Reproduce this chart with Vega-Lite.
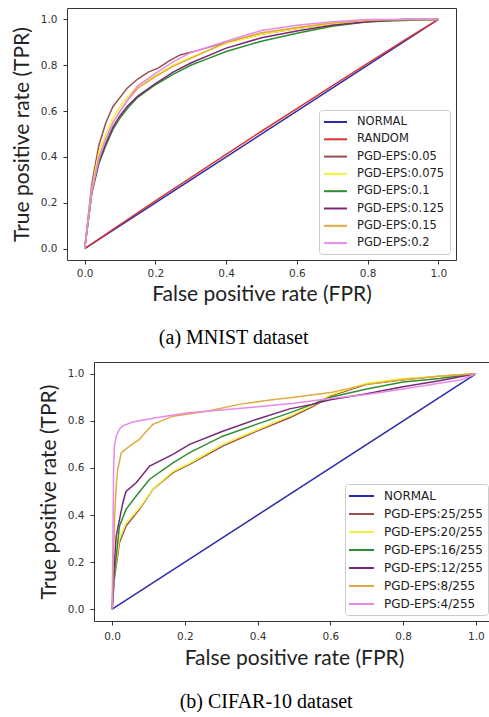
{
  "$schema": "https://vega.github.io/schema/vega-lite/v6.json",
  "padding": {"left": 5, "top": 7, "right": 0, "bottom": 0},
  "background": "white",
  "config": {
    "view": {"stroke": "#333", "strokeWidth": 1},
    "axis": {"domain": false, "grid": false, "tickColor": "#333", "tickSize": 4, "labelFont": "DejaVu Sans", "labelFontSize": 10.5, "labelColor": "#333", "titleFont": "Lato", "titleFontSize": 21, "titleFontWeight": "normal", "titleColor": "#222"},
    "axisX": {"labelPadding": 4, "titlePadding": 5},
    "axisY": {"labelPadding": 6, "titlePadding": 8},
    "legend": {"orient": "bottom-right", "offset": 6, "padding": 5, "strokeColor": "#ccc", "fillColor": "white", "cornerRadius": 3, "symbolStrokeWidth": 2, "labelFont": "DejaVu Sans", "labelColor": "#222"},
    "title": {"orient": "bottom", "font": "Liberation Serif", "fontSize": 20, "fontWeight": "normal", "color": "#000", "anchor": "middle", "frame": "bounds", "offset": 23}
  },
  "datasets": {
    "mnist": [
      {"s":"NORMAL","x":0,"y":0},{"s":"NORMAL","x":1,"y":1},
      {"s":"RANDOM","x":0,"y":0},{"s":"RANDOM","x":0.1,"y":0.104},{"s":"RANDOM","x":0.2,"y":0.208},{"s":"RANDOM","x":0.3,"y":0.31},{"s":"RANDOM","x":0.4,"y":0.411},{"s":"RANDOM","x":0.5,"y":0.512},{"s":"RANDOM","x":0.6,"y":0.611},{"s":"RANDOM","x":0.7,"y":0.71},{"s":"RANDOM","x":0.8,"y":0.808},{"s":"RANDOM","x":0.9,"y":0.905},{"s":"RANDOM","x":1,"y":1},
      {"s":"PGD-EPS:0.05","x":0,"y":0},{"s":"PGD-EPS:0.05","x":0.01,"y":0.14},{"s":"PGD-EPS:0.05","x":0.02,"y":0.28},{"s":"PGD-EPS:0.05","x":0.04,"y":0.45},{"s":"PGD-EPS:0.05","x":0.06,"y":0.55},{"s":"PGD-EPS:0.05","x":0.08,"y":0.62},{"s":"PGD-EPS:0.05","x":0.1,"y":0.66},{"s":"PGD-EPS:0.05","x":0.12,"y":0.7},{"s":"PGD-EPS:0.05","x":0.15,"y":0.74},{"s":"PGD-EPS:0.05","x":0.18,"y":0.77},{"s":"PGD-EPS:0.05","x":0.21,"y":0.79},{"s":"PGD-EPS:0.05","x":0.24,"y":0.82},{"s":"PGD-EPS:0.05","x":0.27,"y":0.845},{"s":"PGD-EPS:0.05","x":0.32,"y":0.865},{"s":"PGD-EPS:0.05","x":0.4,"y":0.9},{"s":"PGD-EPS:0.05","x":0.5,"y":0.935},{"s":"PGD-EPS:0.05","x":0.6,"y":0.96},{"s":"PGD-EPS:0.05","x":0.7,"y":0.98},{"s":"PGD-EPS:0.05","x":0.8,"y":0.99},{"s":"PGD-EPS:0.05","x":0.9,"y":1},{"s":"PGD-EPS:0.05","x":1,"y":1},
      {"s":"PGD-EPS:0.075","x":0,"y":0},{"s":"PGD-EPS:0.075","x":0.01,"y":0.13},{"s":"PGD-EPS:0.075","x":0.02,"y":0.26},{"s":"PGD-EPS:0.075","x":0.04,"y":0.42},{"s":"PGD-EPS:0.075","x":0.06,"y":0.5},{"s":"PGD-EPS:0.075","x":0.08,"y":0.57},{"s":"PGD-EPS:0.075","x":0.1,"y":0.62},{"s":"PGD-EPS:0.075","x":0.12,"y":0.66},{"s":"PGD-EPS:0.075","x":0.15,"y":0.71},{"s":"PGD-EPS:0.075","x":0.2,"y":0.755},{"s":"PGD-EPS:0.075","x":0.25,"y":0.8},{"s":"PGD-EPS:0.075","x":0.3,"y":0.835},{"s":"PGD-EPS:0.075","x":0.4,"y":0.895},{"s":"PGD-EPS:0.075","x":0.5,"y":0.935},{"s":"PGD-EPS:0.075","x":0.6,"y":0.96},{"s":"PGD-EPS:0.075","x":0.7,"y":0.98},{"s":"PGD-EPS:0.075","x":0.8,"y":0.99},{"s":"PGD-EPS:0.075","x":0.9,"y":1},{"s":"PGD-EPS:0.075","x":1,"y":1},
      {"s":"PGD-EPS:0.1","x":0,"y":0},{"s":"PGD-EPS:0.1","x":0.01,"y":0.12},{"s":"PGD-EPS:0.1","x":0.02,"y":0.24},{"s":"PGD-EPS:0.1","x":0.04,"y":0.37},{"s":"PGD-EPS:0.1","x":0.06,"y":0.45},{"s":"PGD-EPS:0.1","x":0.08,"y":0.52},{"s":"PGD-EPS:0.1","x":0.1,"y":0.57},{"s":"PGD-EPS:0.1","x":0.12,"y":0.61},{"s":"PGD-EPS:0.1","x":0.15,"y":0.66},{"s":"PGD-EPS:0.1","x":0.2,"y":0.715},{"s":"PGD-EPS:0.1","x":0.25,"y":0.76},{"s":"PGD-EPS:0.1","x":0.3,"y":0.8},{"s":"PGD-EPS:0.1","x":0.35,"y":0.83},{"s":"PGD-EPS:0.1","x":0.4,"y":0.86},{"s":"PGD-EPS:0.1","x":0.5,"y":0.905},{"s":"PGD-EPS:0.1","x":0.6,"y":0.94},{"s":"PGD-EPS:0.1","x":0.7,"y":0.97},{"s":"PGD-EPS:0.1","x":0.8,"y":0.99},{"s":"PGD-EPS:0.1","x":0.9,"y":0.995},{"s":"PGD-EPS:0.1","x":1,"y":1},
      {"s":"PGD-EPS:0.125","x":0,"y":0},{"s":"PGD-EPS:0.125","x":0.01,"y":0.12},{"s":"PGD-EPS:0.125","x":0.02,"y":0.245},{"s":"PGD-EPS:0.125","x":0.04,"y":0.38},{"s":"PGD-EPS:0.125","x":0.06,"y":0.46},{"s":"PGD-EPS:0.125","x":0.08,"y":0.53},{"s":"PGD-EPS:0.125","x":0.1,"y":0.58},{"s":"PGD-EPS:0.125","x":0.12,"y":0.62},{"s":"PGD-EPS:0.125","x":0.15,"y":0.665},{"s":"PGD-EPS:0.125","x":0.2,"y":0.72},{"s":"PGD-EPS:0.125","x":0.25,"y":0.77},{"s":"PGD-EPS:0.125","x":0.3,"y":0.81},{"s":"PGD-EPS:0.125","x":0.4,"y":0.875},{"s":"PGD-EPS:0.125","x":0.5,"y":0.92},{"s":"PGD-EPS:0.125","x":0.6,"y":0.95},{"s":"PGD-EPS:0.125","x":0.7,"y":0.975},{"s":"PGD-EPS:0.125","x":0.8,"y":0.99},{"s":"PGD-EPS:0.125","x":0.9,"y":1},{"s":"PGD-EPS:0.125","x":1,"y":1},
      {"s":"PGD-EPS:0.15","x":0,"y":0},{"s":"PGD-EPS:0.15","x":0.01,"y":0.13},{"s":"PGD-EPS:0.15","x":0.02,"y":0.25},{"s":"PGD-EPS:0.15","x":0.04,"y":0.4},{"s":"PGD-EPS:0.15","x":0.06,"y":0.48},{"s":"PGD-EPS:0.15","x":0.08,"y":0.55},{"s":"PGD-EPS:0.15","x":0.1,"y":0.6},{"s":"PGD-EPS:0.15","x":0.12,"y":0.645},{"s":"PGD-EPS:0.15","x":0.15,"y":0.7},{"s":"PGD-EPS:0.15","x":0.2,"y":0.75},{"s":"PGD-EPS:0.15","x":0.25,"y":0.795},{"s":"PGD-EPS:0.15","x":0.3,"y":0.83},{"s":"PGD-EPS:0.15","x":0.4,"y":0.9},{"s":"PGD-EPS:0.15","x":0.5,"y":0.942},{"s":"PGD-EPS:0.15","x":0.6,"y":0.965},{"s":"PGD-EPS:0.15","x":0.7,"y":0.985},{"s":"PGD-EPS:0.15","x":0.8,"y":0.995},{"s":"PGD-EPS:0.15","x":0.9,"y":1},{"s":"PGD-EPS:0.15","x":1,"y":1},
      {"s":"PGD-EPS:0.2","x":0,"y":0},{"s":"PGD-EPS:0.2","x":0.01,"y":0.12},{"s":"PGD-EPS:0.2","x":0.02,"y":0.25},{"s":"PGD-EPS:0.2","x":0.04,"y":0.39},{"s":"PGD-EPS:0.2","x":0.06,"y":0.48},{"s":"PGD-EPS:0.2","x":0.08,"y":0.55},{"s":"PGD-EPS:0.2","x":0.1,"y":0.6},{"s":"PGD-EPS:0.2","x":0.12,"y":0.645},{"s":"PGD-EPS:0.2","x":0.15,"y":0.71},{"s":"PGD-EPS:0.2","x":0.2,"y":0.765},{"s":"PGD-EPS:0.2","x":0.25,"y":0.815},{"s":"PGD-EPS:0.2","x":0.3,"y":0.855},{"s":"PGD-EPS:0.2","x":0.35,"y":0.88},{"s":"PGD-EPS:0.2","x":0.4,"y":0.905},{"s":"PGD-EPS:0.2","x":0.5,"y":0.952},{"s":"PGD-EPS:0.2","x":0.6,"y":0.975},{"s":"PGD-EPS:0.2","x":0.7,"y":0.99},{"s":"PGD-EPS:0.2","x":0.8,"y":1},{"s":"PGD-EPS:0.2","x":0.9,"y":1},{"s":"PGD-EPS:0.2","x":1,"y":1}
    ],
    "cifar": [
      {"s":"NORMAL","x":0,"y":0},{"s":"NORMAL","x":1,"y":1},
      {"s":"PGD-EPS:25/255","x":0,"y":0},{"s":"PGD-EPS:25/255","x":0.006,"y":0.13},{"s":"PGD-EPS:25/255","x":0.02,"y":0.283},{"s":"PGD-EPS:25/255","x":0.038,"y":0.353},{"s":"PGD-EPS:25/255","x":0.075,"y":0.424},{"s":"PGD-EPS:25/255","x":0.112,"y":0.509},{"s":"PGD-EPS:25/255","x":0.167,"y":0.58},{"s":"PGD-EPS:25/255","x":0.213,"y":0.615},{"s":"PGD-EPS:25/255","x":0.304,"y":0.693},{"s":"PGD-EPS:25/255","x":0.396,"y":0.756},{"s":"PGD-EPS:25/255","x":0.488,"y":0.813},{"s":"PGD-EPS:25/255","x":0.55,"y":0.86},{"s":"PGD-EPS:25/255","x":0.6,"y":0.905},{"s":"PGD-EPS:25/255","x":0.7,"y":0.955},{"s":"PGD-EPS:25/255","x":0.8,"y":0.975},{"s":"PGD-EPS:25/255","x":0.9,"y":0.99},{"s":"PGD-EPS:25/255","x":1,"y":1},
      {"s":"PGD-EPS:20/255","x":0,"y":0},{"s":"PGD-EPS:20/255","x":0.006,"y":0.15},{"s":"PGD-EPS:20/255","x":0.02,"y":0.3},{"s":"PGD-EPS:20/255","x":0.038,"y":0.365},{"s":"PGD-EPS:20/255","x":0.075,"y":0.43},{"s":"PGD-EPS:20/255","x":0.112,"y":0.51},{"s":"PGD-EPS:20/255","x":0.167,"y":0.585},{"s":"PGD-EPS:20/255","x":0.213,"y":0.62},{"s":"PGD-EPS:20/255","x":0.304,"y":0.7},{"s":"PGD-EPS:20/255","x":0.396,"y":0.76},{"s":"PGD-EPS:20/255","x":0.488,"y":0.82},{"s":"PGD-EPS:20/255","x":0.55,"y":0.865},{"s":"PGD-EPS:20/255","x":0.6,"y":0.91},{"s":"PGD-EPS:20/255","x":0.7,"y":0.96},{"s":"PGD-EPS:20/255","x":0.8,"y":0.98},{"s":"PGD-EPS:20/255","x":0.9,"y":0.99},{"s":"PGD-EPS:20/255","x":1,"y":1},
      {"s":"PGD-EPS:16/255","x":0,"y":0},{"s":"PGD-EPS:16/255","x":0.006,"y":0.15},{"s":"PGD-EPS:16/255","x":0.02,"y":0.353},{"s":"PGD-EPS:16/255","x":0.038,"y":0.424},{"s":"PGD-EPS:16/255","x":0.066,"y":0.481},{"s":"PGD-EPS:16/255","x":0.103,"y":0.552},{"s":"PGD-EPS:16/255","x":0.167,"y":0.622},{"s":"PGD-EPS:16/255","x":0.213,"y":0.665},{"s":"PGD-EPS:16/255","x":0.304,"y":0.735},{"s":"PGD-EPS:16/255","x":0.396,"y":0.785},{"s":"PGD-EPS:16/255","x":0.488,"y":0.834},{"s":"PGD-EPS:16/255","x":0.55,"y":0.87},{"s":"PGD-EPS:16/255","x":0.6,"y":0.9},{"s":"PGD-EPS:16/255","x":0.7,"y":0.935},{"s":"PGD-EPS:16/255","x":0.8,"y":0.965},{"s":"PGD-EPS:16/255","x":0.9,"y":0.98},{"s":"PGD-EPS:16/255","x":1,"y":1},
      {"s":"PGD-EPS:12/255","x":0,"y":0},{"s":"PGD-EPS:12/255","x":0.004,"y":0.15},{"s":"PGD-EPS:12/255","x":0.011,"y":0.31},{"s":"PGD-EPS:12/255","x":0.029,"y":0.45},{"s":"PGD-EPS:12/255","x":0.038,"y":0.5},{"s":"PGD-EPS:12/255","x":0.066,"y":0.537},{"s":"PGD-EPS:12/255","x":0.103,"y":0.608},{"s":"PGD-EPS:12/255","x":0.167,"y":0.658},{"s":"PGD-EPS:12/255","x":0.213,"y":0.7},{"s":"PGD-EPS:12/255","x":0.304,"y":0.756},{"s":"PGD-EPS:12/255","x":0.396,"y":0.806},{"s":"PGD-EPS:12/255","x":0.488,"y":0.851},{"s":"PGD-EPS:12/255","x":0.55,"y":0.87},{"s":"PGD-EPS:12/255","x":0.6,"y":0.89},{"s":"PGD-EPS:12/255","x":0.7,"y":0.915},{"s":"PGD-EPS:12/255","x":0.8,"y":0.945},{"s":"PGD-EPS:12/255","x":0.9,"y":0.97},{"s":"PGD-EPS:12/255","x":1,"y":1},
      {"s":"PGD-EPS:8/255","x":0,"y":0},{"s":"PGD-EPS:8/255","x":0.003,"y":0.2},{"s":"PGD-EPS:8/255","x":0.007,"y":0.4},{"s":"PGD-EPS:8/255","x":0.011,"y":0.52},{"s":"PGD-EPS:8/255","x":0.015,"y":0.59},{"s":"PGD-EPS:8/255","x":0.025,"y":0.665},{"s":"PGD-EPS:8/255","x":0.048,"y":0.693},{"s":"PGD-EPS:8/255","x":0.075,"y":0.721},{"s":"PGD-EPS:8/255","x":0.094,"y":0.756},{"s":"PGD-EPS:8/255","x":0.112,"y":0.785},{"s":"PGD-EPS:8/255","x":0.167,"y":0.82},{"s":"PGD-EPS:8/255","x":0.26,"y":0.841},{"s":"PGD-EPS:8/255","x":0.35,"y":0.87},{"s":"PGD-EPS:8/255","x":0.44,"y":0.89},{"s":"PGD-EPS:8/255","x":0.5,"y":0.9},{"s":"PGD-EPS:8/255","x":0.6,"y":0.92},{"s":"PGD-EPS:8/255","x":0.7,"y":0.955},{"s":"PGD-EPS:8/255","x":0.8,"y":0.975},{"s":"PGD-EPS:8/255","x":0.9,"y":0.99},{"s":"PGD-EPS:8/255","x":1,"y":1},
      {"s":"PGD-EPS:4/255","x":0,"y":0},{"s":"PGD-EPS:4/255","x":0.002,"y":0.3},{"s":"PGD-EPS:4/255","x":0.004,"y":0.6},{"s":"PGD-EPS:4/255","x":0.006,"y":0.69},{"s":"PGD-EPS:4/255","x":0.011,"y":0.735},{"s":"PGD-EPS:4/255","x":0.02,"y":0.765},{"s":"PGD-EPS:4/255","x":0.03,"y":0.78},{"s":"PGD-EPS:4/255","x":0.057,"y":0.795},{"s":"PGD-EPS:4/255","x":0.12,"y":0.813},{"s":"PGD-EPS:4/255","x":0.21,"y":0.834},{"s":"PGD-EPS:4/255","x":0.3,"y":0.846},{"s":"PGD-EPS:4/255","x":0.4,"y":0.86},{"s":"PGD-EPS:4/255","x":0.5,"y":0.875},{"s":"PGD-EPS:4/255","x":0.6,"y":0.895},{"s":"PGD-EPS:4/255","x":0.7,"y":0.912},{"s":"PGD-EPS:4/255","x":0.8,"y":0.935},{"s":"PGD-EPS:4/255","x":0.9,"y":0.96},{"s":"PGD-EPS:4/255","x":0.96,"y":0.975},{"s":"PGD-EPS:4/255","x":1,"y":1}
    ]
  },
  "concat": [
    {
      "hconcat": [
        {"width": 5, "height": 10, "data": {"values": []}, "mark": "point", "view": {"stroke": null}},
        {
          "width": 389, "height": 252,
          "data": {"name": "mnist"},
          "mark": {"type": "line", "strokeWidth": 1.5, "clip": true},
          "encoding": {
            "x": {"field": "x", "type": "quantitative", "scale": {"domain": [-0.05, 1.05], "nice": false, "zero": false}, "axis": {"values": [0, 0.2, 0.4, 0.6, 0.8, 1], "format": ".1f", "title": "False positive rate (FPR)"}},
            "y": {"field": "y", "type": "quantitative", "scale": {"domain": [-0.05, 1.05], "nice": false, "zero": false}, "axis": {"values": [0, 0.2, 0.4, 0.6, 0.8, 1], "format": ".1f", "title": "True positive rate (TPR)"}},
            "color": {"field": "s", "type": "nominal",
              "scale": {"domain": ["NORMAL", "RANDOM", "PGD-EPS:0.05", "PGD-EPS:0.075", "PGD-EPS:0.1", "PGD-EPS:0.125", "PGD-EPS:0.15", "PGD-EPS:0.2"],
                        "range": ["#2a2aaa", "#d93535", "#9a4e4e", "#f2f23c", "#2f8f2f", "#782878", "#e0aa40", "#e88be8"]},
              "legend": {"title": null, "symbolType": "M-1.17,0H2.67", "symbolSize": 144, "labelFontSize": 11.5, "labelOffset": 19, "rowPadding": 4.3}}
          },
          "title": {"text": "(a) MNIST dataset"}
        }
      ],
      "spacing": 0,
      "resolve": {"scale": {"color": "independent"}, "legend": {"color": "independent"}}
    },
    {
      "hconcat": [
        {"width": 32, "height": 10, "data": {"values": []}, "mark": "point", "view": {"stroke": null}},
        {
          "width": 400, "height": 259,
          "data": {"name": "cifar"},
          "mark": {"type": "line", "strokeWidth": 1.5, "clip": true},
          "encoding": {
            "x": {"field": "x", "type": "quantitative", "scale": {"domain": [-0.05, 1.05], "nice": false, "zero": false}, "axis": {"values": [0, 0.2, 0.4, 0.6, 0.8, 1], "format": ".1f", "title": "False positive rate (FPR)", "labelPadding": 6, "titlePadding": 6}},
            "y": {"field": "y", "type": "quantitative", "scale": {"domain": [-0.05, 1.05], "nice": false, "zero": false}, "axis": {"values": [0, 0.2, 0.4, 0.6, 0.8, 1], "format": ".1f", "title": "True positive rate (TPR)"}},
            "color": {"field": "s", "type": "nominal",
              "scale": {"domain": ["NORMAL", "PGD-EPS:25/255", "PGD-EPS:20/255", "PGD-EPS:16/255", "PGD-EPS:12/255", "PGD-EPS:8/255", "PGD-EPS:4/255"],
                        "range": ["#2a2aaa", "#9a4e4e", "#f2f23c", "#2f8f2f", "#782878", "#e0aa40", "#e88be8"]},
              "legend": {"title": null, "symbolType": "M-1.33,0H2.83", "symbolSize": 144, "labelFontSize": 12, "labelOffset": 20, "rowPadding": 5, "offset": 6}}
          },
          "title": {"text": "(b) CIFAR-10 dataset"}
        }
      ],
      "spacing": 0,
      "resolve": {"scale": {"color": "independent"}, "legend": {"color": "independent"}}
    }
  ],
  "columns": 1,
  "spacing": 13,
  "resolve": {"scale": {"color": "independent"}, "legend": {"color": "independent"}}
}
